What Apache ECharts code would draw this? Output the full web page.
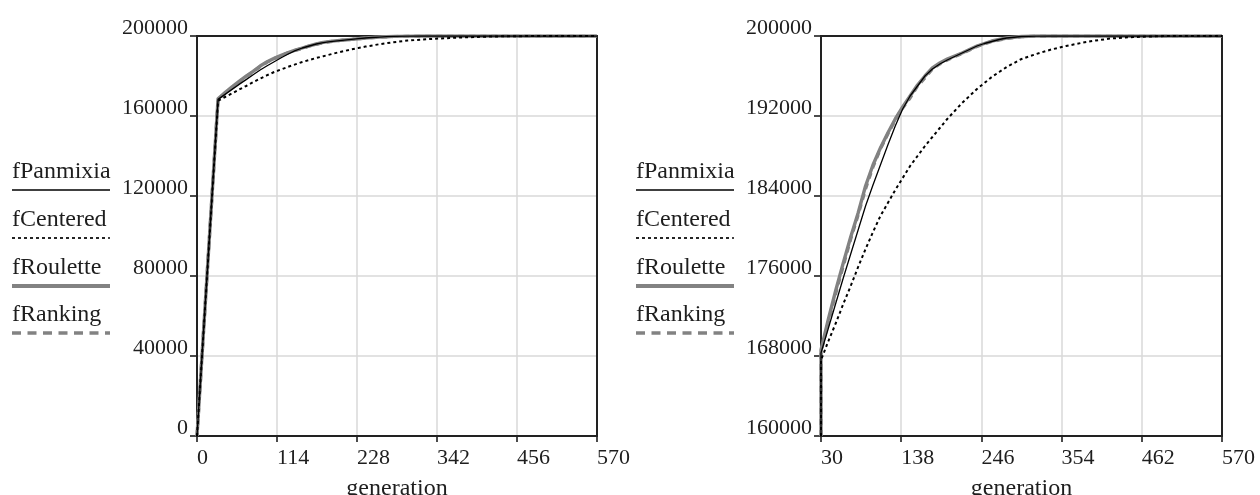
<!DOCTYPE html>
<html>
<head>
<meta charset="utf-8">
<script src="https://cdn.jsdelivr.net/npm/echarts@6/dist/echarts.min.js"></script>
<style>
  html, body { margin: 0; padding: 0; background: #ffffff; }
  #chart { width: 1260px; height: 495px; }
</style>
</head>
<body>
<div id="chart"></div>
<script>
// Generations at which the population fitness was recorded
const generations = [0, 30, 40, 50, 60, 70, 80, 90, 100, 110, 120, 130, 140, 150, 160, 170, 180, 190, 200,
  210, 220, 230, 240, 250, 260, 270, 280, 300, 320, 340, 360, 380, 400, 420, 440, 460, 480, 500, 520, 540, 570];

// Best fitness per generation for each selection scheme
const fPanmixia = [0, 168300, 170800, 173300, 175800, 178200, 180600, 183000, 185100, 187100, 189100, 191000,
  192700, 194000, 195000, 196000, 196700, 197200, 197600, 197950, 198300, 198650, 199000, 199250, 199450, 199650,
  199800, 199950, 199990, 200000, 200000, 200000, 200000, 200000, 200000, 200000, 200000, 200000, 200000, 200000, 200000];
const fCentered = [0, 167600, 169500, 171300, 173200, 175000, 176900, 178700, 180400, 182000, 183300, 184600,
  185800, 187000, 188000, 189000, 189900, 190800, 191700, 192500, 193300, 194000, 194700, 195300, 195900, 196400,
  196900, 197700, 198200, 198650, 199000, 199300, 199550, 199750, 199850, 199930, 199970, 200000, 200000, 200000, 200000];
const fRoulette = [0, 168600, 171700, 174600, 177300, 179900, 182300, 185000, 187100, 188800, 190300, 191700,
  192900, 194000, 195100, 196000, 196800, 197300, 197700, 198000, 198300, 198650, 199000, 199250, 199500, 199650,
  199800, 199950, 200000, 200000, 200000, 200000, 200000, 200000, 200000, 200000, 200000, 200000, 200000, 200000, 200000];
const fRanking = [0, 168400, 171400, 174300, 177000, 179700, 182100, 184700, 186900, 188700, 190200, 191600,
  192800, 193800, 195000, 195800, 196700, 197200, 197600, 197950, 198250, 198600, 198950, 199200, 199450, 199600,
  199750, 199930, 199990, 200000, 200000, 200000, 200000, 200000, 200000, 200000, 200000, 200000, 200000, 200000, 200000];

// Axis ranges and tick steps for the full view and the zoomed view
const fullX = { min: 0, max: 570, step: 114 };
const fullY = { min: 0, max: 200000, step: 40000 };
const zoomX = { min: 30, max: 570, step: 108 };
const zoomY = { min: 160000, max: 200000, step: 8000 };

const seriesNames = ['fPanmixia', 'fCentered', 'fRoulette', 'fRanking'];
const seriesValues = [fPanmixia, fCentered, fRoulette, fRanking];

const FONT = '"Liberation Serif", "Times New Roman", serif';
const TEXT = '#1e1e1e';
const GREY = '#828282';

const lineStyles = [
  { color: '#000000', width: 1.3, type: 'solid' },
  { color: '#000000', width: 2, type: [3, 3] },
  { color: GREY, width: 3.4, type: 'solid' },
  { color: GREY, width: 3.2, type: [6, 5] }
];
const legendStyles = [
  { color: '#000000', width: 1.7, type: 'solid' },
  { color: '#000000', width: 1.7, type: [3, 3] },
  { color: GREY, width: 4, type: 'solid' },
  { color: GREY, width: 3.5, type: [9, 6.5] }
];

// The zoomed axis starts at 30, so its values are shifted by the offset
// to keep tick counting aligned with the start; points outside the view are
// pinned to the view's edges, so the initial climb shows on the left border.
function toPairs(values, xr, yr, offset) {
  return generations.map((g, i) => {
    let x = g, y = values[i];
    if (offset) {
      x = Math.max(x, xr.min);
      y = Math.max(y, yr.min);
      x -= offset;
    }
    return [x, y];
  });
}

const chart = echarts.init(document.getElementById('chart'), null, { renderer: 'canvas' });

const grids = [
  { left: 197, top: 36, width: 400, height: 400 },
  { left: 821, top: 36, width: 401, height: 400 }
];

function xAxisFor(idx, r, offset) {
  return {
    type: 'value', gridIndex: idx,
    min: r.min - offset, max: r.max - offset, interval: r.step,
    name: 'generation', nameLocation: 'middle', nameGap: 41,
    nameTextStyle: { fontFamily: FONT, fontSize: 24, color: TEXT },
    axisLine: { show: true, onZero: false, lineStyle: { color: '#111', width: 2 } },
    axisTick: { show: true, length: 6, lineStyle: { color: '#111', width: 1.5 } },
    axisLabel: {
      fontFamily: FONT, fontSize: 22, color: TEXT, align: 'left', margin: 11,
      formatter: v => String(v + offset)
    },
    splitLine: { show: true, lineStyle: { color: '#d9d9d9', width: 1.5 } }
  };
}
function yAxisFor(idx, r) {
  return {
    type: 'value', gridIndex: idx,
    min: r.min, max: r.max, interval: r.step,
    axisLine: { show: true, lineStyle: { color: '#111', width: 2 } },
    axisTick: { show: true, length: 7, lineStyle: { color: '#111', width: 1.5 } },
    axisLabel: {
      fontFamily: FONT, fontSize: 22, color: TEXT, margin: 9,
      verticalAlign: 'bottom', lineHeight: 16,
      formatter: v => String(v)
    },
    splitLine: { show: true, lineStyle: { color: '#d9d9d9', width: 1.5 } }
  };
}

const series = [];
[[fullX, fullY, 0], [zoomX, zoomY, zoomX.min]].forEach(([xr, yr, off], gi) => {
  seriesValues.forEach((vals, si) => {
    series.push({
      name: seriesNames[si], type: 'line', xAxisIndex: gi, yAxisIndex: gi,
      data: toPairs(vals, xr, yr, off),
      showSymbol: false, symbol: 'none', clip: true,
      lineStyle: Object.assign({ cap: 'butt', join: 'round' }, lineStyles[si]),
      z: si === 0 || si === 1 ? 4 : 3
    });
  });
});

// Legend blocks: name above a sample of each line style
const legendX = [12, 636];
const legendLineY = [190, 238, 286, 333];
const graphic = [];
legendX.forEach(lx => {
  seriesNames.forEach((name, i) => {
    graphic.push({
      type: 'text', x: lx, y: legendLineY[i] - 18,
      style: { text: name, font: '24px ' + FONT, fill: TEXT, verticalAlign: 'middle', align: 'left' }
    });
    graphic.push({
      type: 'line',
      shape: { x1: lx, y1: legendLineY[i], x2: lx + 98, y2: legendLineY[i] },
      style: { stroke: legendStyles[i].color, lineWidth: legendStyles[i].width, lineDash: Array.isArray(legendStyles[i].type) ? legendStyles[i].type : null }
    });
  });
});

chart.setOption({
  animation: false,
  backgroundColor: '#ffffff',
  grid: grids.map(g => Object.assign({
    show: true, z: 1, borderColor: '#222', borderWidth: 2,
    containLabel: false, outerBoundsMode: 'none'
  }, g)),
  xAxis: [xAxisFor(0, fullX, 0), xAxisFor(1, zoomX, zoomX.min)],
  yAxis: [yAxisFor(0, fullY), yAxisFor(1, zoomY)],
  series: series,
  graphic: graphic
});
</script>
</body>
</html>
